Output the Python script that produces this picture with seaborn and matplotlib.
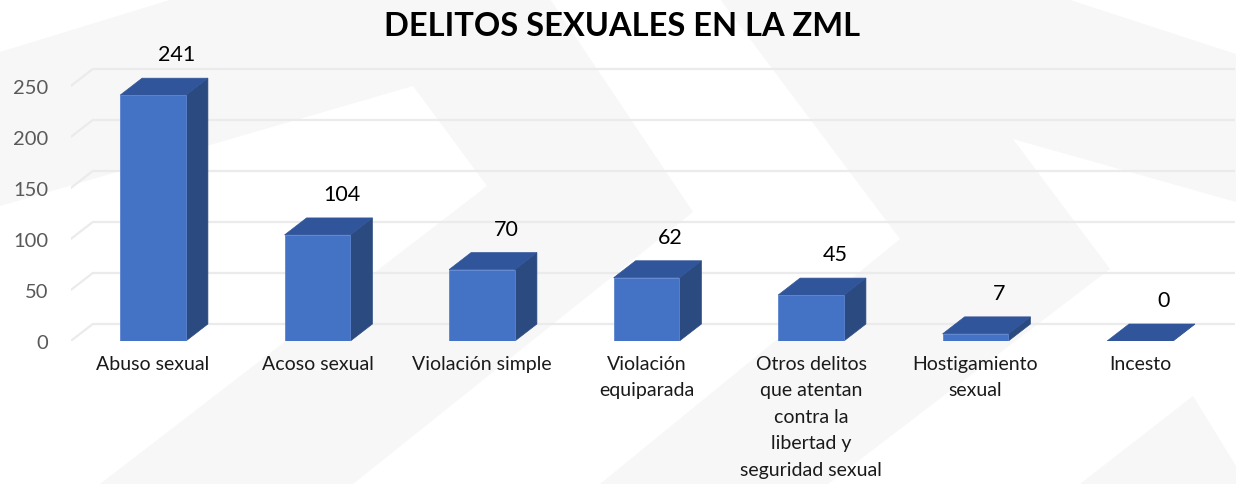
import matplotlib
matplotlib.use("Agg")
import matplotlib.pyplot as plt
from matplotlib.patches import Polygon
import seaborn as sns
import pandas as pd

# ---------------- data ----------------
categories = [
    "Abuso sexual",
    "Acoso sexual",
    "Violación simple",
    "Violación\nequiparada",
    "Otros delitos\nque atentan\ncontra la\nlibertad y\nseguridad sexual",
    "Hostigamiento\nsexual",
    "Incesto",
]
values = [241, 104, 70, 62, 45, 7, 0]
y_ticks = [0, 50, 100, 150, 200, 250]
title = "DELITOS SEXUALES EN LA ZML"

# ---------------- style ----------------
sns.set_theme(style="white")
plt.rcParams["font.family"] = ["Lato", "DejaVu Sans"]

W, H = 1236, 485
fig = plt.figure(figsize=(W / 100, H / 100), dpi=100)
fig.patch.set_facecolor("white")

# background watermark (light grey chevrons), pixel coords from top-left
bg_shapes = [
    [(0, 53), (173, 0), (550, 0), (693, 213), (353, 485), (100, 485),
     (487, 187), (413, 87), (0, 207)],
    [(720, 0), (1067, 0), (1236, 55), (1236, 203), (1013, 140),
     (1110, 270), (828, 485), (600, 485), (900, 240)],
    [(1193, 397), (1236, 467), (1236, 485), (1080, 485)],
]
for shp in bg_shapes:
    pts = [(x / W, 1 - y / H) for x, y in shp]
    fig.add_artist(Polygon(pts, closed=True, transform=fig.transFigure,
                           facecolor="#f7f7f7", edgecolor="none", zorder=-5))

# axes geometry
px_per_cat = 164.5
px_per_unit = 1.02
x_left, x_right = -0.5, 6.58
y_top = 272
left_px = 153 - 0.5 * px_per_cat
ax_w = (x_right - x_left) * px_per_cat
ax_h = y_top * px_per_unit
ax = fig.add_axes([left_px / W, (H - 342) / H, ax_w / W, ax_h / H])
ax.set_facecolor("none")

df = pd.DataFrame({"cat": categories, "val": values})
sns.barplot(data=df, x="cat", y="val", color="#4472C4", saturation=1,
            width=0.4, ax=ax, zorder=3, edgecolor="#5b84d0", linewidth=0.6)
ax.set_xlim(x_left, x_right)
ax.set_ylim(0, y_top)

# depth offsets in data units
depth_dx = 22 / px_per_cat
depth_dy = 17 / px_per_unit

top_color = "#31559A"
side_color = "#2B4A80"

for p in ax.patches:
    x0 = p.get_x()
    w = p.get_width()
    h = p.get_height()
    top = Polygon([(x0, h), (x0 + w, h), (x0 + w + depth_dx, h + depth_dy),
                   (x0 + depth_dx, h + depth_dy)], closed=True,
                  facecolor=top_color, edgecolor=top_color, linewidth=0.5,
                  zorder=2)
    side = Polygon([(x0 + w, 0), (x0 + w + depth_dx, depth_dy),
                    (x0 + w + depth_dx, h + depth_dy), (x0 + w, h)],
                   closed=True, facecolor=side_color, edgecolor=side_color,
                   linewidth=0.5, zorder=2)
    ax.add_patch(side)
    ax.add_patch(top)

# back-wall gridlines with left diagonal
grid_c = "#ebebeb"
for v in y_ticks:
    ax.plot([x_left + depth_dx, x_right], [v + depth_dy, v + depth_dy],
            color=grid_c, lw=1.6, zorder=1, solid_capstyle="butt")
    ax.plot([x_left, x_left + depth_dx], [v, v + depth_dy],
            color=grid_c, lw=1.6, zorder=1)

# data labels
for p, v in zip(ax.patches, values):
    ax.annotate(str(v), xy=(p.get_x() + p.get_width() / 2, p.get_height()),
                xytext=(24, 41), textcoords="offset pixels",
                ha="center", va="center", fontsize=15.5, color="black")

ax.set_yticks(y_ticks)
ax.set_yticklabels([str(t) for t in y_ticks])
ax.tick_params(axis="y", length=0, pad=16, labelsize=14.5, labelcolor="#595959")
ax.tick_params(axis="x", length=0, pad=10, labelsize=14, labelcolor="#1a1a1a")
for lab in ax.get_xticklabels():
    lab.set_linespacing(1.68)
ax.set_xlabel("")
ax.set_ylabel("")
ax.grid(False)
for s in ax.spines.values():
    s.set_visible(False)

fig.text(622.5 / W, 1 - 27 / H, title, ha="center", va="center",
         fontsize=23.5, fontweight="bold", color="black")

fig.savefig("out.png", dpi=100)
